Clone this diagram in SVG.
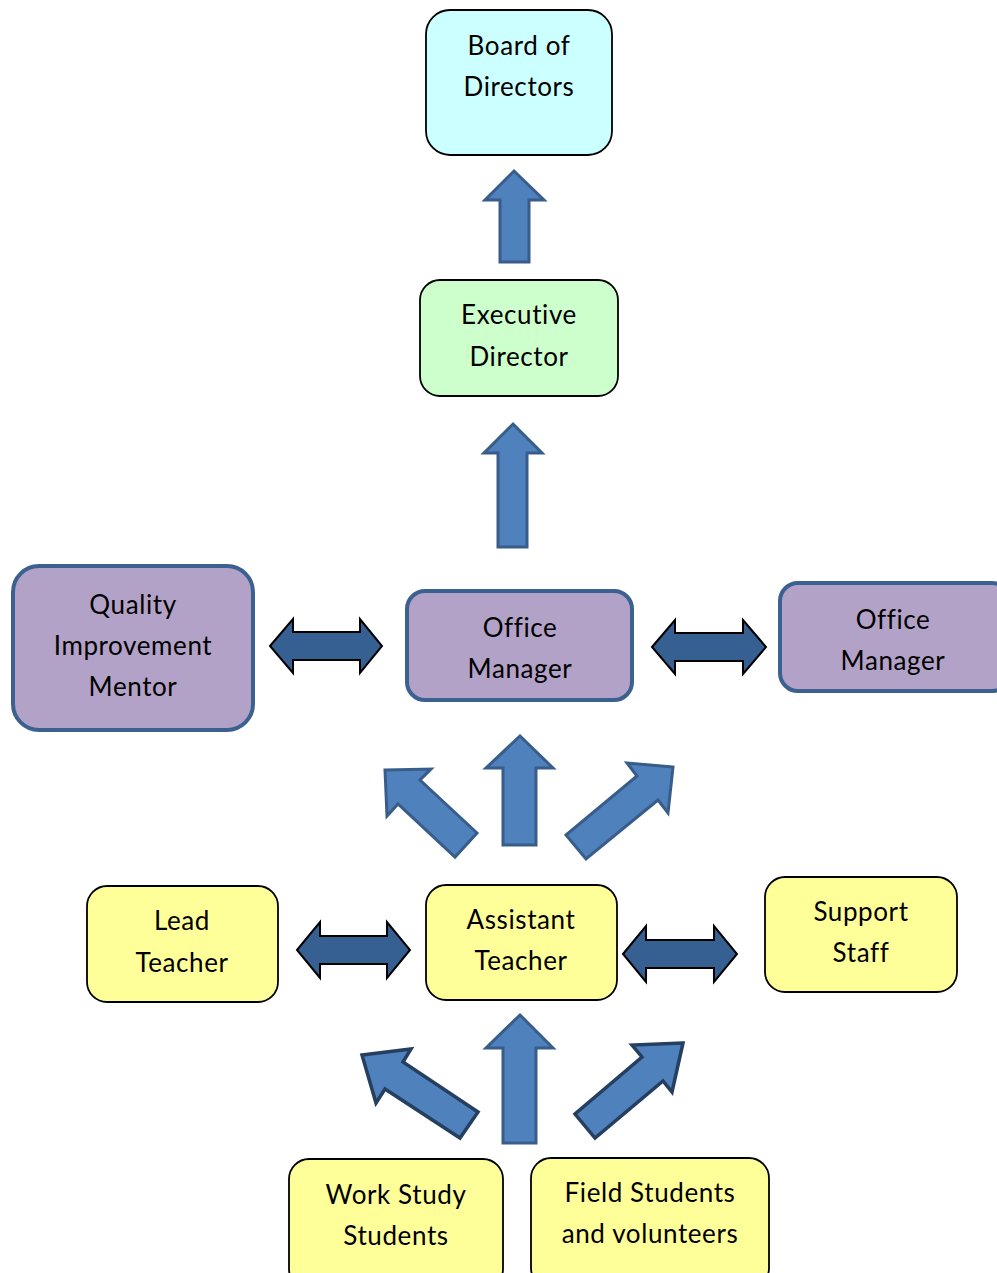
<svg xmlns="http://www.w3.org/2000/svg" width="997" height="1273" viewBox="0 0 997 1273">
<style>
text{font-family:Lato,"Liberation Sans",sans-serif;font-size:26px;letter-spacing:0.6px;fill:#000;text-anchor:middle}
.cyan{fill:#ccffff;stroke:#000;stroke-width:1.8}
.green{fill:#ccffcc;stroke:#000;stroke-width:1.8}
.purple{fill:#b3a2c7;stroke:#3c6090;stroke-width:4}
.yellow{fill:#ffff99;stroke:#000;stroke-width:1.8}
.up{fill:#4f81bd;stroke:#385d8a;stroke-width:3;stroke-linejoin:miter}
.diag2{fill:#4f81bd;stroke:#253f60;stroke-width:3.5}
.dbl{fill:#376092;stroke:#000;stroke-width:2}
</style>
<rect width="997" height="1273" fill="#fff"/>
<g id="connectors">
<polygon class="up" points="514,171 544,200 529,200 529,262 500,262 500,200 485,200"/>
<polygon class="up" points="513,424 542,453 527,453 527,547 498,547 498,453 484,453"/>
<polygon class="up" points="520,736 553,768 536,768 536,845 503,845 503,768 486,768"/>
<polygon class="up" points="520,1015 553,1048 536,1048 536,1143 503,1143 503,1048 486,1048"/>
<polygon class="up" points="385,770 431,769 420,780 477,833 455,857 398,804 387,816"/>
<polygon class="up" points="673,767 627,763 637,776 566,835 586,859 658,800 668,813"/>
<polygon class="diag2" points="362,1055 411,1049 403,1062 478,1112 460,1138 385,1089 376,1103"/>
<polygon class="diag2" points="683,1043 632,1045 642,1057 575,1114 595,1138 663,1081 672,1092"/>
<polygon class="dbl" points="270,646 293,619 293,632 360,632 360,619 382,646 360,673 360,660 293,660 293,673"/>
<polygon class="dbl" points="652,647 675,620 675,633 743,633 743,620 766,647 743,674 743,661 675,661 675,674"/>
<polygon class="dbl" points="297,950 320,922 320,936 387,936 387,922 410,950 387,978 387,964 320,964 320,978"/>
<polygon class="dbl" points="623,954 646,926 646,940 714,940 714,926 737,954 714,982 714,968 646,968 646,982"/>
</g>
<g id="board">
<rect class="cyan" x="426" y="10" width="186" height="145" rx="24"/>
<text x="519" y="55">Board of</text><text x="519" y="96">Directors</text>
</g>
<g id="executive">
<rect class="green" x="420" y="280" width="198" height="116" rx="20"/>
<text x="519" y="324">Executive</text><text x="519" y="366">Director</text>
</g>
<g id="qim">
<rect class="purple" x="13" y="566" width="240" height="164" rx="26"/>
<text x="133" y="614">Quality</text><text x="133" y="655">Improvement</text><text x="133" y="696">Mentor</text>
</g>
<g id="office-center">
<rect class="purple" x="407" y="591" width="225" height="109" rx="18"/>
<text x="520" y="637">Office</text><text x="520" y="678">Manager</text>
</g>
<g id="office-right">
<rect class="purple" x="780" y="583" width="230" height="108" rx="18"/>
<text x="893" y="629">Office</text><text x="893" y="670">Manager</text>
</g>
<g id="lead">
<rect class="yellow" x="87" y="886" width="191" height="116" rx="20"/>
<text x="182" y="930">Lead</text><text x="182" y="972">Teacher</text>
</g>
<g id="assistant">
<rect class="yellow" x="426" y="885" width="191" height="115" rx="20"/>
<text x="521" y="929">Assistant</text><text x="521" y="970">Teacher</text>
</g>
<g id="support">
<rect class="yellow" x="765" y="877" width="192" height="115" rx="20"/>
<text x="861" y="921">Support</text><text x="861" y="962">Staff</text>
</g>
<g id="workstudy">
<rect class="yellow" x="289" y="1159" width="214" height="130" rx="20"/>
<text x="396" y="1204">Work Study</text><text x="396" y="1245">Students</text>
</g>
<g id="field">
<rect class="yellow" x="531" y="1158" width="238" height="130" rx="20"/>
<text x="650" y="1202">Field Students</text><text x="650" y="1243">and volunteers</text>
</g>
</svg>
